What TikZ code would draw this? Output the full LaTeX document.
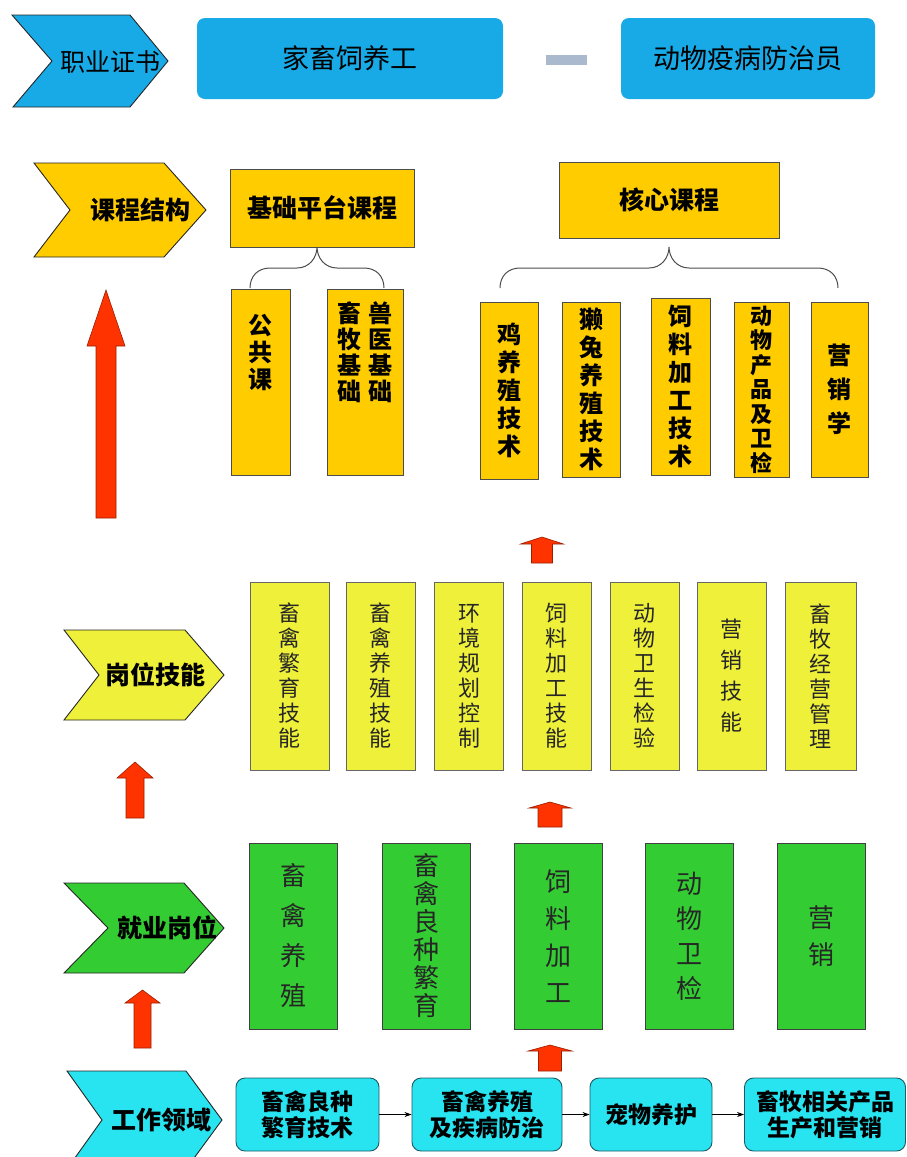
\documentclass[tikz,border=0pt]{standalone}
\usepackage{fontspec}
\setmainfont{Noto Sans CJK SC}
\usetikzlibrary{arrows.meta}
\definecolor{certblue}{RGB}{24,170,230}
\definecolor{coursegold}{RGB}{255,204,0}
\definecolor{skillyellow}{RGB}{238,240,58}
\definecolor{jobgreen}{RGB}{51,204,51}
\definecolor{fieldcyan}{RGB}{40,228,240}
\definecolor{fieldline}{RGB}{30,90,100}
\definecolor{arrowred}{RGB}{255,51,0}
\definecolor{dashgray}{RGB}{170,185,205}
\begin{document}
\begin{tikzpicture}[x=1pt,y=-1pt,
	chev/.style={draw=black!85,line width=0.9pt},
	chevtext/.style={font=\fontsize{25}{28}\selectfont\bfseries},
	certbox/.style={fill=certblue,rounded corners=8pt,minimum height=81pt,inner sep=0pt,font=\fontsize{27}{30}\selectfont},
	coursebox/.style={draw=black!70,fill=coursegold,line width=0.9pt,inner sep=0pt},
	vtext/.style={align=center,inner sep=0pt,font=\fontsize{24}{28}\selectfont\bfseries},
	skillbox/.style={draw=black!60,fill=skillyellow,line width=0.9pt,inner sep=0pt,minimum height=188pt,align=center,text=black!85,font=\fontsize{22}{25}\selectfont},
	jobbox/.style={draw=black!75,fill=jobgreen,line width=0.9pt,inner sep=0pt,minimum height=186pt,minimum width=88pt,align=center,text=black!85},
	fieldbox/.style={draw=fieldline,fill=fieldcyan,line width=0.9pt,rounded corners=9pt,inner sep=0pt,minimum height=73pt,align=center,font=\fontsize{23}{26}\selectfont\bfseries},
	bracket/.style={draw=black!70,line width=1pt},
	redarrow/.style={fill=arrowred,draw=arrowred!60!black,line width=0.6pt},
	flow/.style={-{Stealth[length=7pt,width=5pt]},line width=0.8pt}]
	
	\useasboundingbox (0,0) rectangle (906,1157);
	\clip (0,0) rectangle (906,1157);
	
	\filldraw[chev,fill=certblue] (12,15) -- (130,15) -- (168,61) -- (130,107) -- (13,107) -- (52,61) -- cycle;
	\node[font=\fontsize{25}{28}\selectfont] (zs) at (110,62) {职业证书};
	\node[certbox,minimum width=306pt] (sy) at (350,58.5) {家畜饲养工};
	\fill[dashgray] (546,55) rectangle (587,65);
	\node[certbox,minimum width=254pt] (fz) at (748,58.5) {动物疫病防治员};
	
	\filldraw[chev,fill=coursegold] (34,163) -- (164,163) -- (206,210) -- (164,257) -- (34,257) -- (70,210) -- cycle;
	\node[chevtext] (kc) at (140,210) {课程结构};
	\node[coursebox,minimum width=184pt,minimum height=78pt,font=\fontsize{25}{28}\selectfont\bfseries] (jc) at (322,208) {基础平台课程};
	\node[coursebox,minimum width=220pt,minimum height=76pt,font=\fontsize{25}{28}\selectfont\bfseries] (hx) at (669,200) {核心课程};
	
	\coordinate (jcL) at (250,288);
	\coordinate (jcR) at (384,288);
	\draw[bracket] (jcL) .. controls (250,276) and (258,268) .. (270,268) -- (297,268) .. controls (309,268) and (317,258) .. (317,247) .. controls (317,258) and (325,268) .. (337,268) -- (364,268) .. controls (376,268) and (384,276) .. (jcR);
	\coordinate (hxL) at (500,288);
	\coordinate (hxR) at (838,288);
	\draw[bracket] (hxL) .. controls (500,276) and (508,268) .. (520,268) -- (649,268) .. controls (661,268) and (669,258) .. (669,247) .. controls (669,258) and (677,268) .. (689,268) -- (818,268) .. controls (830,268) and (838,276) .. (hxR);
	
	\node[coursebox,minimum width=59pt,minimum height=186pt] (gg) at (260.5,382) {};
	\node[vtext,font=\fontsize{24}{27}\selectfont\bfseries] (ggt) at (260.5,353) {公\\共\\课};
	\node[coursebox,minimum width=76pt,minimum height=186pt] (xm) at (365,382) {};
	\node[vtext,font=\fontsize{24}{26}\selectfont\bfseries] (xmt) at (365,352) {畜\hspace{8pt}兽\\牧\hspace{8pt}医\\基\hspace{8pt}基\\础\hspace{8pt}础};
	
	\node[coursebox,vtext,minimum width=58pt,minimum height=177pt] (c1) at (509,390.5) {鸡\\养\\殖\\技\\术};
	\node[coursebox,vtext,minimum width=58pt,minimum height=175pt] (c2) at (591,389.5) {獭\\兔\\养\\殖\\技\\术};
	\node[coursebox,vtext,minimum width=59pt,minimum height=177pt] (c3) at (680.5,386.5) {饲\\料\\加\\工\\技\\术};
	\node[coursebox,vtext,font=\fontsize{22}{24.5}\selectfont\bfseries,minimum width=55pt,minimum height=175pt] (c4) at (761.5,389.5) {动\\物\\产\\品\\及\\卫\\检};
	\node[coursebox,vtext,font=\fontsize{24}{34}\selectfont\bfseries,minimum width=57pt,minimum height=175pt] (c5) at (839.5,389.5) {营\\销\\学};
	
	\filldraw[redarrow] (106,290) -- (125,346) -- (116,346) -- (116,518) -- (96,518) -- (96,346) -- (87,346) -- cycle;
	\filldraw[redarrow] (542,537) -- (563.5,544) -- (552.5,544) -- (552.5,563) -- (531.5,563) -- (531.5,544) -- (520.5,544) -- cycle;
	
	\filldraw[chev,fill=skillyellow] (64,630) -- (185,630) -- (224,675) -- (185,720) -- (64,720) -- (99,675) -- cycle;
	\node[chevtext] (gw) at (155,675) {岗位技能};
	\node[skillbox,minimum width=79pt] (s1) at (289.5,676) {畜\\禽\\繁\\育\\技\\能};
	\node[skillbox,minimum width=69pt] (s2) at (380.5,676) {畜\\禽\\养\\殖\\技\\能};
	\node[skillbox,minimum width=69pt] (s3) at (469,676) {环\\境\\规\\划\\控\\制};
	\node[skillbox,minimum width=69pt] (s4) at (556.5,676) {饲\\料\\加\\工\\技\\能};
	\node[skillbox,minimum width=69pt] (s5) at (644.5,676) {动\\物\\卫\\生\\检\\验};
	\node[skillbox,minimum width=69pt,font=\fontsize{22}{31}\selectfont] (s6) at (731.5,676) {营\\销\\技\\能};
	\node[skillbox,minimum width=71pt] (s7) at (820.5,676) {畜\\牧\\经\\营\\管\\理};
	
	\filldraw[redarrow] (135,762) -- (153,778) -- (144,778) -- (144,818) -- (126,818) -- (126,778) -- (117,778) -- cycle;
	\filldraw[redarrow] (550,802) -- (571,808) -- (562,808) -- (562,827) -- (538,827) -- (538,808) -- (529,808) -- cycle;
	
	\filldraw[chev,fill=jobgreen] (64,883) -- (184,883) -- (224,928) -- (184,973) -- (64,973) -- (108,928) -- cycle;
	\node[chevtext] (jw) at (167,928) {就业岗位};
	\node[jobbox,font=\fontsize{26}{40}\selectfont] (j1) at (293,936) {畜\\禽\\养\\殖};
	\node[jobbox,font=\fontsize{26}{28}\selectfont] (j2) at (426,936) {畜\\禽\\良\\种\\繁\\育};
	\node[jobbox,font=\fontsize{26}{37}\selectfont] (j3) at (558,936) {饲\\料\\加\\工};
	\node[jobbox,font=\fontsize{26}{35}\selectfont] (j4) at (689,936) {动\\物\\卫\\检};
	\node[jobbox,font=\fontsize{26}{37}\selectfont] (j5) at (821,936) {营\\销};
	
	\filldraw[redarrow] (142.5,990) -- (160,1003) -- (151,1003) -- (151,1048) -- (134,1048) -- (134,1003) -- (125,1003) -- cycle;
	\filldraw[redarrow] (550,1045) -- (572,1051) -- (561.5,1051) -- (561.5,1071) -- (538.5,1071) -- (538.5,1051) -- (528,1051) -- cycle;
	
	\filldraw[chev,fill=fieldcyan] (67,1071) -- (186,1071) -- (222,1120) -- (186,1169) -- (67,1169) -- (102,1120) -- cycle;
	\node[chevtext] (gz) at (161,1120) {工作领域};
	\node[fieldbox,minimum width=143pt] (w1) at (307.5,1114.5) {畜禽良种\\繁育技术};
	\node[fieldbox,minimum width=150pt] (w2) at (487,1114.5) {畜禽养殖\\及疾病防治};
	\node[fieldbox,minimum width=122pt] (w3) at (651,1114.5) {宠物养护};
	\node[fieldbox,minimum width=161pt] (w4) at (825,1114.5) {畜牧相关产品\\生产和营销};
	\draw[flow] (w1) -- (w2);
	\draw[flow] (w2) -- (w3);
	\draw[flow] (w3) -- (w4);
\end{tikzpicture}
\end{document}
